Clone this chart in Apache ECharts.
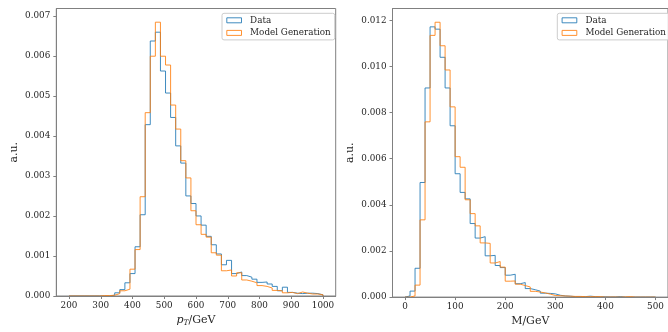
<!DOCTYPE html>
<html><head><meta charset="utf-8">
<script src="https://cdn.jsdelivr.net/npm/echarts@6/dist/echarts.min.js"></script>
<style>html,body{margin:0;padding:0;background:#fff}#c{width:668px;height:332px}</style>
</head><body><div id="c"></div>
<script>
// ---- p_T histogram (bins of 16 GeV from 200 to 1000) ----
const ptBinStart = 200;
const ptBinWidth = 16;
const ptData = [0,0,0,0,0,0,0,0,0.00002,0.00008,0.00016,0.00033,0.00056,0.00123,0.00203,0.00428,0.00637,0.00659,0.00562,0.00507,0.00446,0.00375,0.00332,0.00250,0.00231,0.00200,0.00177,0.00149,0.00128,0.00105,0.00078,0.00089,0.00056,0.00060,0.00051,0.00047,0.00042,0.00034,0.00035,0.00030,0.00024,0.00013,0.00022,0.00009,0.00007,0.00006,0.00007,0.00007,0.00006,0.00003];
const ptModel = [0,0,0,0,0,0,0.00001,0.00001,0.00002,0.00006,0.00013,0.00017,0.00067,0.00116,0.00248,0.00458,0.00599,0.00684,0.00599,0.00577,0.00477,0.00417,0.00338,0.00295,0.00213,0.00178,0.00154,0.00147,0.00108,0.00102,0.00063,0.00065,0.00050,0.00058,0.00040,0.00037,0.00033,0.00026,0.00024,0.00020,0.00014,0.00013,0.00008,0.00009,0.00006,0.00010,0.00007,0.00005,0.00005,0.00003];
const ptXTicks = [200,300,400,500,600,700,800,900,1000];
const ptYTicks = [0,0.001,0.002,0.003,0.004,0.005,0.006,0.007];

// ---- Mass histogram (bins of 10 GeV from 0 to 500) ----
const mBinStart = 0;
const mBinWidth = 10;
const mData = [0.00005,0.00026,0.00125,0.00497,0.00907,0.01172,0.01162,0.01040,0.00907,0.00743,0.00535,0.00454,0.00426,0.00319,0.00256,0.00262,0.00179,0.00181,0.00137,0.00128,0.00095,0.00099,0.00058,0.00063,0.00037,0.00032,0.00026,0.00017,0.00016,0.00014,0.00008,0.00005,0.00004,0.00002,0.00002,0.00002,0.00004,0.00002,0.00001,0.00001,0.000005,0.000005,0.00002,0,0,0,0,0,0,0];
const mModel = [0,0.00005,0.00052,0.00335,0.00760,0.01135,0.01192,0.01090,0.00985,0.00825,0.00609,0.00563,0.00422,0.00362,0.00309,0.00235,0.00233,0.00148,0.00154,0.00130,0.00069,0.00070,0.00056,0.00050,0.00044,0.00025,0.00022,0.00018,0.00013,0.00007,0.00006,0.00005,0.00004,0.00003,0.00003,0.00002,0.00002,0.00002,0.00002,0,0.000005,0.000005,0,0.00001,0.00002,0,0,0,0,0];
const mXTicks = [0,100,200,300,400,500];
const mYTicks = [0,0.002,0.004,0.006,0.008,0.010,0.012];

const seriesNames = ['Data','Model Generation'];
const colors = ['#1f77b4','#ff7f0e'];

function stepPoints(start, width, vals){
  const pts = [[start,0]];
  vals.forEach((v,i)=>{ pts.push([start+i*width, v]); pts.push([start+(i+1)*width, v]); });
  pts.push([start+vals.length*width, 0]);
  return pts;
}
function maxOf(a,b){ return Math.max(...a, ...b); }

const FONT = 'DejaVu Serif';
const TXT = '#262626';
const SPINE = '#808080';

function xAxisCfg(gi, min, max, ticks, name){
  return {
    type:'value', gridIndex:gi, min:min, max:max, z:10,
    splitLine:{show:false},
    axisLine:{show:true, onZero:false, lineStyle:{color:SPINE, width:1}},
    axisTick:{show:true, length:3, customValues:ticks, lineStyle:{color:SPINE}},
    axisLabel:{customValues:ticks, margin:5, fontFamily:FONT, fontSize:8.8, color:TXT,
      formatter:(v)=>String(v)},
    name:name, nameLocation:'middle', nameGap:18,
    nameTextStyle:{fontFamily:FONT, fontSize:11, color:TXT,
      rich:{i:{fontFamily:FONT, fontStyle:'italic', fontSize:11, color:TXT},
            s:{fontFamily:FONT, fontStyle:'italic', fontSize:7.5, color:TXT, padding:[5,0,0,0]},
            n:{fontFamily:FONT, fontSize:11, color:TXT}}}
  };
}
function yAxisCfg(gi, max, ticks){
  return {
    type:'value', gridIndex:gi, min:0, max:max, z:10,
    splitLine:{show:false},
    axisLine:{show:true, onZero:false, lineStyle:{color:SPINE, width:1}},
    axisTick:{show:true, length:3, customValues:ticks, lineStyle:{color:SPINE}},
    axisLabel:{customValues:ticks, margin:6, fontFamily:FONT, fontSize:8.8, color:TXT,
      formatter:(v)=>v.toFixed(3)},
    name:'a.u.', nameLocation:'middle', nameGap:37,
    nameTextStyle:{fontFamily:FONT, fontSize:11, color:TXT}
  };
}
function legendCfg(left){
  return {
    left:left, top:13.3, orient:'vertical',
    padding:[1.5,4,1.5,4.3], itemGap:1.6, itemWidth:14.7, itemHeight:5,
    borderColor:'#cccccc', borderWidth:1, borderRadius:2,
    backgroundColor:'rgba(255,255,255,0.8)',
    textStyle:{fontFamily:FONT, fontSize:8.8, color:TXT, lineHeight:11, padding:[0,0,0,3.6]},
    selectedMode:false,
    data: seriesNames.map((n,i)=>({name:n, icon:'rect',
      itemStyle:{color:'transparent', borderColor:colors[i], borderWidth:1, opacity:0.85}}))
  };
}
function histSeries(name, color, pts, gi){
  return {type:'line', name:name, xAxisIndex:gi, yAxisIndex:gi, data:pts,
    symbol:'none', showSymbol:false, silent:true, animation:false,
    lineStyle:{color:color, width:1, opacity:0.85}, itemStyle:{color:'transparent', borderColor:color},
    emphasis:{disabled:true}};
}

const chart = echarts.init(document.getElementById('c'));
chart.setOption({
  animation:false,
  grid:[
    {left:56.3, top:8.5, width:279.4, height:290.8, show:true, borderColor:SPINE, borderWidth:1, backgroundColor:'transparent'},
    {left:392.5, top:8.5, width:278.6, height:290.8, show:true, borderColor:SPINE, borderWidth:1, backgroundColor:'transparent'}
  ],
  xAxis:[
    xAxisCfg(0, 160, 1040, ptXTicks, '{i|p}{s|T}{n|/GeV}'),
    xAxisCfg(1, -25, 525, mXTicks, 'M/GeV')
  ],
  yAxis:[
    yAxisCfg(0, maxOf(ptData, ptModel)*1.05, ptYTicks),
    yAxisCfg(1, maxOf(mData, mModel)*1.05, mYTicks)
  ],
  legend:[legendCfg(222), legendCfg(557.3)],
  series:[
    histSeries(seriesNames[0], colors[0], stepPoints(ptBinStart, ptBinWidth, ptData), 0),
    histSeries(seriesNames[1], colors[1], stepPoints(ptBinStart, ptBinWidth, ptModel), 0),
    histSeries(seriesNames[0], colors[0], stepPoints(mBinStart, mBinWidth, mData), 1),
    histSeries(seriesNames[1], colors[1], stepPoints(mBinStart, mBinWidth, mModel), 1)
  ]
});
</script>
</body></html>
